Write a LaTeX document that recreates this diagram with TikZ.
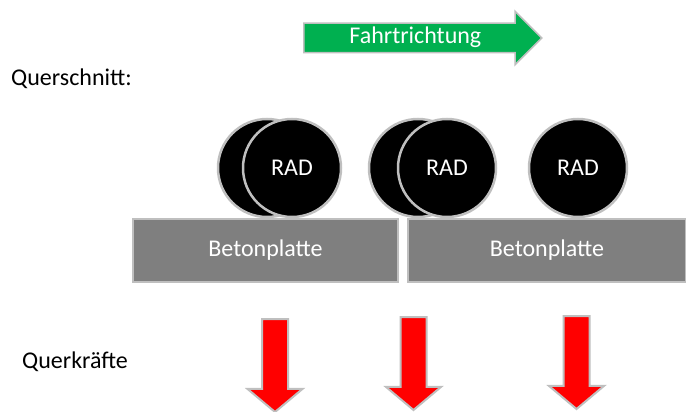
\documentclass[tikz,border=0pt]{standalone}
\usepackage{fontspec}
\setmainfont{Carlito}
\usetikzlibrary{shapes,arrows,positioning}
\definecolor{dirgreen}{HTML}{00B050}
\definecolor{rimgray}{HTML}{BFBFBF}
\definecolor{slabgray}{HTML}{7F7F7F}

\begin{document}
\begin{tikzpicture}[x=1pt, y=-1pt,
    every node/.style={font=\fontsize{24}{29}\selectfont},
    wheel/.style={circle, draw=rimgray, fill=black, line width=2.5pt, minimum size=98pt, inner sep=0pt, text=white},
    slab/.style={rectangle, draw=rimgray, fill=slabgray, line width=2pt, minimum height=63pt, inner sep=0pt, text=white},
    force/.style={single arrow, draw=rimgray, fill=red, line width=2pt, rotate=-90, anchor=tail,
        inner sep=0pt, text height=24pt, text depth=0pt, minimum height=93pt,
        single arrow head extend=14.5pt, single arrow tip angle=100, single arrow head indent=0pt},
    label/.style={anchor=west, inner sep=0pt, text=black}]

    \useasboundingbox (0,0) rectangle (686,412);

    % direction of travel
    \node[single arrow, draw=rimgray, fill=dirgreen, line width=1.5pt, text=white, anchor=tail,
        inner xsep=2pt, inner ysep=3.5pt, text height=16pt, text depth=5pt, minimum height=238pt,
        single arrow head extend=12pt, single arrow tip angle=90, single arrow head indent=0pt]
        (dir) at (303,38) {Fahrtrichtung};

    \node[label] (cut) at (11,79) {Querschnitt:};
    \node[label] (shear) at (22,362) {Querkräfte};

    % wheels
    \node[wheel] (back1) at (267,168) {};
    \node[wheel] (rad1) at (292,168) {RAD};
    \node[wheel] (back2) at (418,168) {};
    \node[wheel] (rad2) at (447,168) {RAD};
    \node[wheel] (rad3) at (578,168) {RAD};

    % slabs
    \node[slab, minimum width=265pt] (plate1) at (265.5,250.5) {Betonplatte};
    \node[slab, minimum width=278pt] (plate2) at (547,250.5) {Betonplatte};

    % shear forces
    \node[force] (q1) at (275,318) {};
    \node[force] (q2) at (413.5,316) {};
    \node[force] (q3) at (576.5,315) {};
\end{tikzpicture}
\end{document}
